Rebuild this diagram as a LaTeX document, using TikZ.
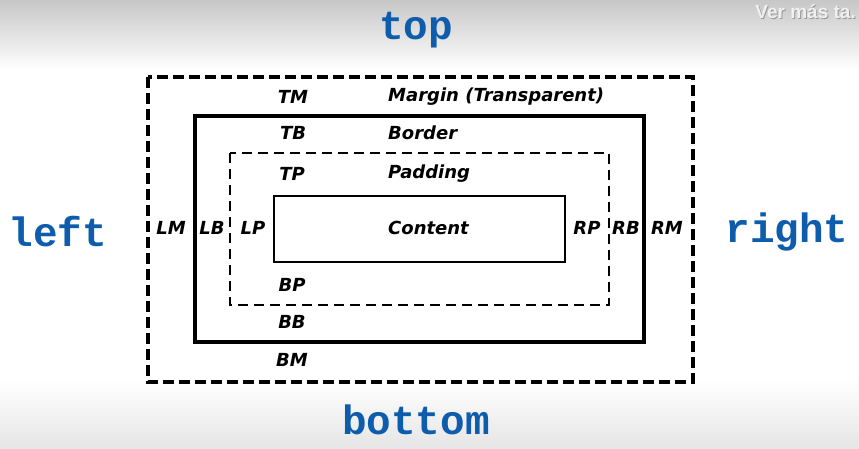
\documentclass[tikz,border=0pt]{standalone}
\usepackage{fontspec}
\newfontfamily\lblfont{DejaVu Sans}
\newfontfamily\sidefont{Liberation Mono}
\newfontfamily\ytfont{Liberation Sans}
\definecolor{sideblue}{RGB}{14,92,172}
\tikzset{
  lbl/.style={font=\lblfont\bfseries\itshape\fontsize{18}{20}\selectfont, inner sep=0pt},
  side/.style={font=\sidefont\bfseries\fontsize{41}{43}\selectfont, text=sideblue, inner sep=0pt},
  overlay/.style={font=\ytfont\bfseries\fontsize{19}{21}\selectfont, inner sep=0pt, anchor=east},
  marginbox/.style={line width=4pt, dash pattern=on 11pt off 5pt},
  borderbox/.style={line width=4pt},
  paddingbox/.style={line width=1.5pt, dash pattern=on 10pt off 6pt},
  contentbox/.style={line width=1.5pt}
}
\begin{document}
\begin{tikzpicture}[x=1pt, y=-1pt]

\useasboundingbox (0, 0) rectangle (859, 448);
\fill[white] (0, 0) rectangle (859, 448);
\shade[top color=black!22, bottom color=white] (0, 0) rectangle (859, 70);
\shade[top color=white, bottom color=black!10] (0, 380) rectangle (859, 448);

% boxes
\draw[marginbox] (148, 77) rectangle (693, 382);
\draw[borderbox] (195, 116) rectangle (644, 342);
\draw[paddingbox] (230, 153) rectangle (609, 305);
\draw[contentbox] (274, 196) rectangle (565, 262);

% top labels
\node[lbl] (tm) at (293, 97) {TM};
\node[lbl] (tb) at (293, 133) {TB};
\node[lbl] (tp) at (292, 174) {TP};
\node[lbl, anchor=west] (margin) at (388, 97) {Margin (Transparent)};
\node[lbl, anchor=west] (border) at (388, 133) {Border};
\node[lbl, anchor=west] (padding) at (388, 174) {Padding};
\node[lbl, anchor=west] (content) at (388, 228) {Content};

% side labels
\node[lbl] (lm) at (171, 228) {LM};
\node[lbl] (lb) at (212, 228) {LB};
\node[lbl] (lp) at (253, 228) {LP};
\node[lbl] (rp) at (587, 228) {RP};
\node[lbl] (rb) at (626, 228) {RB};
\node[lbl] (rm) at (667, 228) {RM};

% bottom labels
\node[lbl] (bp) at (292, 285) {BP};
\node[lbl] (bb) at (292, 322) {BB};
\node[lbl] (bm) at (292, 360) {BM};

% sides
\node[side] (top) at (416, 30) {top};
\node[side] (bottom) at (416, 420) {bottom};
\node[side] (left) at (58, 232) {left};
\node[side] (right) at (787, 232) {right};

% overlay
\node[overlay, text=black!40] (vershadow) at (857, 13) {Ver más ta.};
\node[overlay, text=black!6] (ver) at (856, 12) {Ver más ta.};

\end{tikzpicture}
\end{document}
